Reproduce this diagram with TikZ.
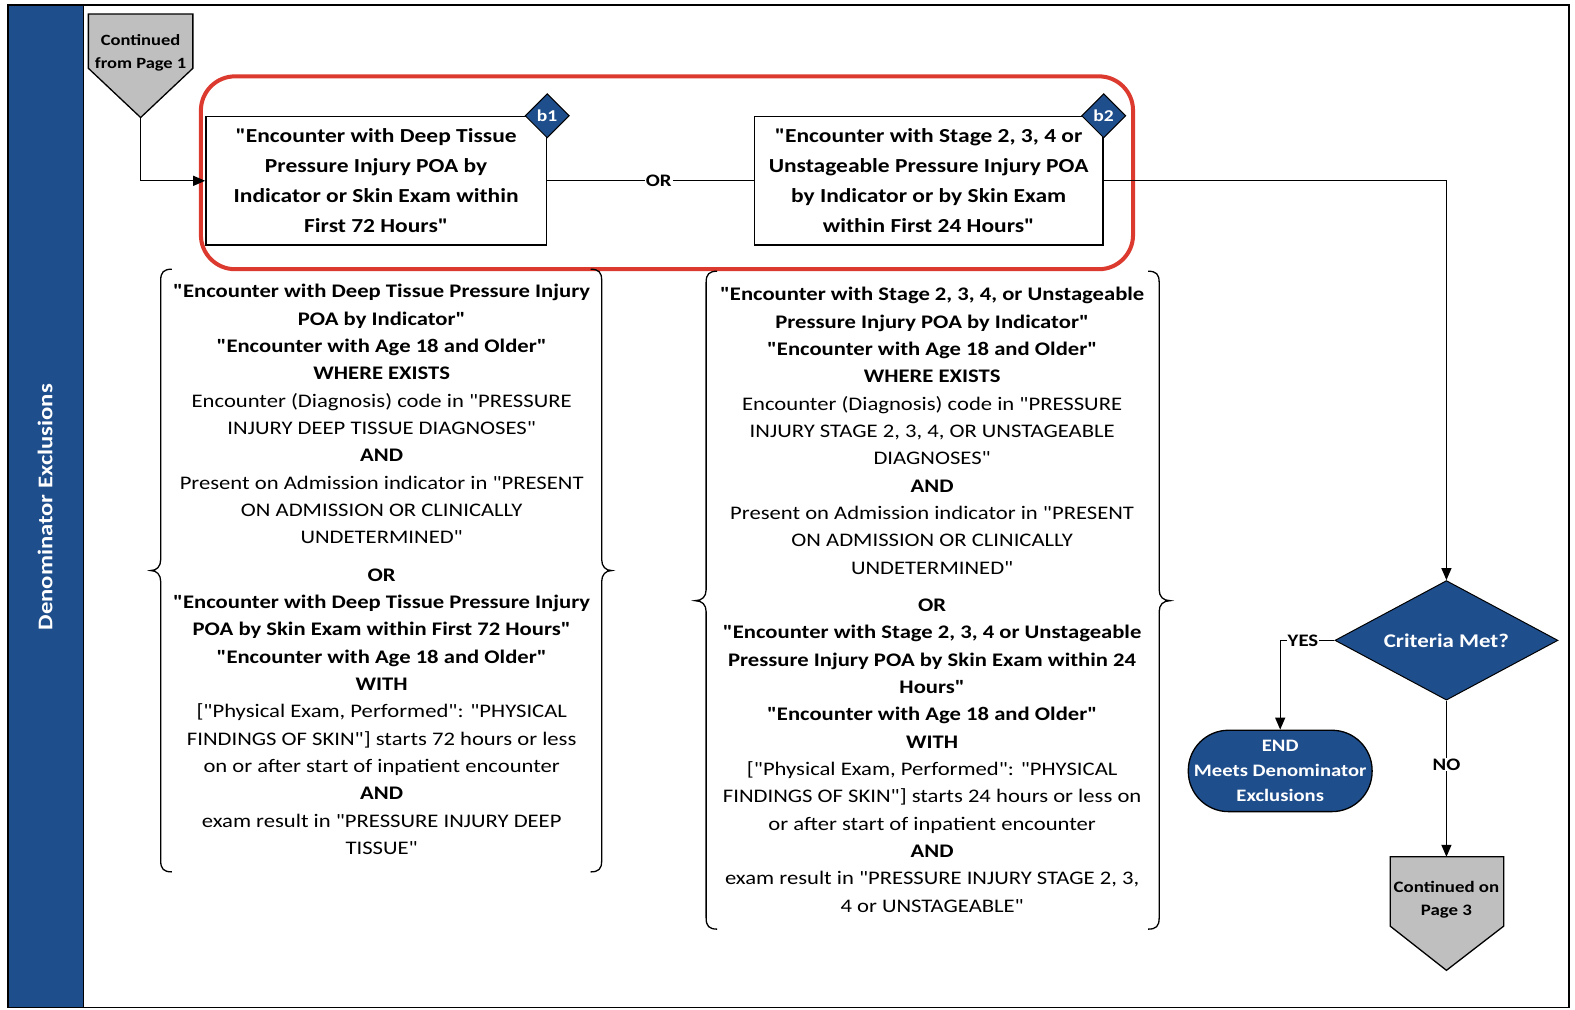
\documentclass[tikz,border=0pt]{standalone}
\usepackage{fontspec}
\setmainfont{Carlito}[Ligatures=TeXOff, FakeStretch=1.18]
\usetikzlibrary{shapes.geometric,shapes.misc,arrows.meta}
\definecolor{nqblue}{HTML}{1F4E8C}
\definecolor{nqgray}{HTML}{BFBFBF}
\definecolor{nqred}{HTML}{DC3A2E}
\tikzset{
  conn/.style={draw=black, line width=1.3pt},
  arr/.style={conn, -{Triangle[length=12pt,width=10pt]}},
  critbox/.style={draw=black, line width=1.5pt, fill=white, minimum width=339pt, minimum height=128pt, inner sep=0pt, align=center, font=\bfseries\fontsize{19.8}{30}\selectfont},
  badge/.style={diamond, draw=black, line width=1pt, fill=nqblue, text=white, minimum width=44pt, minimum height=44pt, inner sep=0pt, font=\bfseries\fontsize{16.5}{20}\selectfont},
  blocktext/.style={align=center, inner sep=0pt, anchor=north, font=\fontsize{19.1}{27.2}\selectfont},
  lbl/.style={fill=white, inner sep=1pt, font=\bfseries\fontsize{17.5}{20}\selectfont},
  offpage/.style={draw=black, line width=1.3pt, fill=nqgray},
  offtext/.style={align=center, inner sep=0pt, font=\bfseries\fontsize{15.6}{23}\selectfont},
  bracepath/.style={draw=black, line width=1.3pt},
}
\begin{document}
\begin{tikzpicture}[x=1pt,y=-1pt]
\useasboundingbox (0,0) rectangle (1568,1005);
% frame and sidebar
\fill[white] (0,0) rectangle (1568,1005);
\fill[nqblue] (8,5) rectangle (83,1003);
\draw[line width=1.3pt] (8,5) rectangle (1562,1003);
\draw[line width=1.3pt] (83,5) -- (83,1003);
\node[rotate=90, text=white, font=\bfseries\fontsize{20.8}{24}\selectfont] (side) at (45,505) {Denominator Exclusions};

% continued from page 1
\draw[offpage] (88,14) -- (192,14) -- (192,68) -- (140,117) -- (88,68) -- cycle;
\node[offtext] (c1) at (140,53) {Continued\\from Page 1};
\coordinate (c1tip) at (140,117);

% highlight frame
\node[draw=nqred, line width=4pt, rounded corners=34pt, minimum width=928pt, minimum height=192pt] (hl) at (664,172) {};

% criteria boxes
\node[critbox] (b1) at (374.5,180) {"Encounter with Deep Tissue\\Pressure Injury POA by\\Indicator or Skin Exam within\\First 72 Hours"};
\node[critbox, minimum width=347pt] (b2) at (924.5,180) {"Encounter with Stage 2, 3, 4 or\\Unstageable Pressure Injury POA\\by Indicator or by Skin Exam\\within First 24 Hours"};
\node[badge] (bd1) at (b1.north east) {b1};
\node[badge] (bd2) at (b2.north east) {b2};

\draw[arr] (c1tip) |- (b1.west);
\draw[conn] (b1.east) -- node[lbl, pos=0.54] (orl) {OR} (b2.west);

% decision
\node[diamond, aspect=1.87, draw=black, line width=1pt, fill=nqblue, text=white, minimum width=222pt, minimum height=119pt, inner sep=0pt, font=\bfseries\fontsize{19.3}{24}\selectfont] (crit) at (1440,637.5) {Criteria Met?};
\draw[arr] (b2.east) -| (crit.north);

% END
\node[rectangle, rounded corners=40pt, draw=black, line width=1.3pt, fill=nqblue, text=white, minimum width=183pt, minimum height=81pt, inner sep=0pt, align=center, font=\bfseries\fontsize{17.4}{24.5}\selectfont] (endn) at (1274.5,767.5) {END\\Meets Denominator\\Exclusions};
\draw[arr] (crit.west) -| node[lbl, pos=0.29] (yesl) {YES} (endn.north);

% continued on page 3
\draw[offpage] (1384,853) -- (1497,853) -- (1497,922) -- (1440,966) -- (1384,922) -- cycle;
\node[offtext, font=\bfseries\fontsize{15.9}{23}\selectfont] (c3) at (1440,896) {Continued on\\Page 3};
\coordinate (c3top) at (1440,853);
\draw[arr] (crit.south) -- node[lbl, pos=0.41] (nol) {NO} (c3top);

% left brace block
\draw[bracepath] (171,268) .. controls (163,268) and (160,271) .. (160,279) -- (160,557) .. controls (160,564) and (156,568) .. (150,568) .. controls (156,568) and (160,572) .. (160,579) -- (160,857) .. controls (160,865) and (163,868) .. (171,868);
\draw[bracepath] (588,268) .. controls (596,268) and (599,271) .. (599,279) -- (599,557) .. controls (599,564) and (603,568) .. (609,568) .. controls (603,568) and (599,572) .. (599,579) -- (599,857) .. controls (599,865) and (596,868) .. (588,868);
\node[blocktext] (lb) at (380,283) {%
\textbf{"Encounter with Deep Tissue Pressure Injury}\\
\textbf{POA by Indicator"}\\
\textbf{"Encounter with Age 18 and Older"}\\
\textbf{WHERE EXISTS}\\
Encounter (Diagnosis) code in "PRESSURE\\
INJURY DEEP TISSUE DIAGNOSES"\\
\textbf{AND}\\
Present on Admission indicator in "PRESENT\\
ON ADMISSION OR CLINICALLY\\
UNDETERMINED"\\[10pt]
\textbf{OR}\\
\textbf{"Encounter with Deep Tissue Pressure Injury}\\
\textbf{POA by Skin Exam within First 72 Hours"}\\
\textbf{"Encounter with Age 18 and Older"}\\
\textbf{WITH}\\
{[}"Physical Exam, Performed": "PHYSICAL\\
FINDINGS OF SKIN"] starts 72 hours or less\\
on or after start of inpatient encounter\\
\textbf{AND}\\
exam result in "PRESSURE INJURY DEEP\\
TISSUE"};

% right brace block
\draw[bracepath] (714,270) .. controls (706,270) and (703,273) .. (703,281) -- (703,587) .. controls (703,594) and (699,598) .. (692,598) .. controls (699,598) and (703,602) .. (703,609) -- (703,914) .. controls (703,922) and (706,925) .. (714,925);
\draw[bracepath] (1143,270) .. controls (1151,270) and (1154,273) .. (1154,281) -- (1154,587) .. controls (1154,594) and (1158,598) .. (1165,598) .. controls (1158,598) and (1154,602) .. (1154,609) -- (1154,914) .. controls (1154,922) and (1151,925) .. (1143,925);
\node[blocktext] (rb) at (928,286) {%
\textbf{"Encounter with Stage 2, 3, 4, or Unstageable}\\
\textbf{Pressure Injury POA by Indicator"}\\
\textbf{"Encounter with Age 18 and Older"}\\
\textbf{WHERE EXISTS}\\
Encounter (Diagnosis) code in "PRESSURE\\
INJURY STAGE 2, 3, 4, OR UNSTAGEABLE\\
DIAGNOSES"\\
\textbf{AND}\\
Present on Admission indicator in "PRESENT\\
ON ADMISSION OR CLINICALLY\\
UNDETERMINED"\\[10pt]
\textbf{OR}\\
\textbf{"Encounter with Stage 2, 3, 4 or Unstageable}\\
\textbf{Pressure Injury POA by Skin Exam within 24}\\
\textbf{Hours"}\\
\textbf{"Encounter with Age 18 and Older"}\\
\textbf{WITH}\\
{[}"Physical Exam, Performed": "PHYSICAL\\
FINDINGS OF SKIN"] starts 24 hours or less on\\
or after start of inpatient encounter\\
\textbf{AND}\\
exam result in "PRESSURE INJURY STAGE 2, 3,\\
4 or UNSTAGEABLE"};
\end{tikzpicture}
\end{document}
